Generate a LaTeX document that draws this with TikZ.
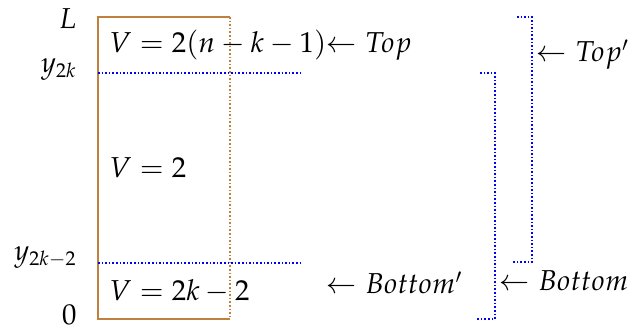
\documentclass[tikz,border=0pt]{standalone}
\usepackage{mathpazo}
\definecolor{WallClr}{rgb}{0.75,0.5,0.25}
\definecolor{LevelClr}{rgb}{0,0,1}

\begin{document}
\begin{tikzpicture}[x=.5pt,y=.5pt]

\useasboundingbox (0,0) rectangle (628,331);

\tikzset{wall/.style={WallClr,thick},
         level/.style={LevelClr,thick,densely dotted},
         tag/.style={inner sep=0pt,font=\Large}}

\coordinate (O) at (98,12);
\coordinate (A) at (230,12);
\coordinate (B) at (230,314);
\coordinate (C) at (98,314);

\coordinate (P1) at (98,68);
\coordinate (Q1) at (302,68);
\coordinate (P2) at (98,258);
\coordinate (Q2) at (302,258);

\coordinate (U1) at (480,258);
\coordinate (V1) at (495,12);
\coordinate (W1) at (476,12);
\coordinate (U2) at (517,314);
\coordinate (V2) at (532,69);
\coordinate (W2) at (513,69);

\draw[wall] (A) -- (O) -- (C) -- (B);
\draw[wall,densely dotted] (B) -- (A);

\draw[level] (P1) -- (Q1) (P2) -- (Q2);
\draw[level] (U1) -| (V1) -- (W1);
\draw[level] (U2) -| (V2) -- (W2);

\node[tag,anchor=base east] (lL) at (77,302) {$L$};
\node[tag,anchor=base east] (ly2) at (77,258) {$y_{2k}$};
\node[tag,anchor=base east] (ly1) at (77,70) {$y_{2k-2}$};
\node[tag,anchor=base east] (l0) at (77,6) {$0$};

\node[tag,anchor=base west] (vtop) at (109,278) {$V=2(n-k-1)$$\leftarrow Top$};
\node[tag,anchor=base west] (vmid) at (109,153) {$V=2$};
\node[tag,anchor=base west] (vbot) at (109,30) {$V=2k-2$};

\node[tag,anchor=base west] (bt1) at (326,37) {$\leftarrow Bottom'$};
\node[tag,anchor=base west] (bt) at (499,40) {$\leftarrow Bottom$};
\node[tag,anchor=base west] (tp1) at (536,269) {$\leftarrow Top'$};

\end{tikzpicture}
\end{document}
